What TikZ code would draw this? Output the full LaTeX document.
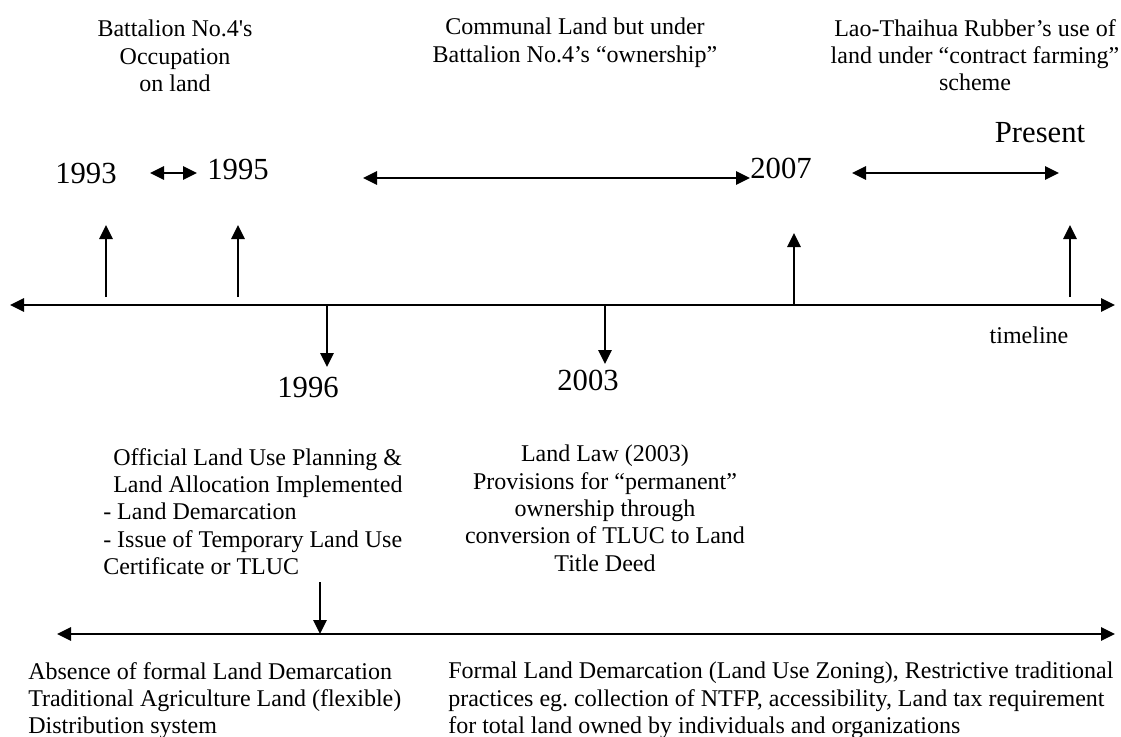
\documentclass[tikz,border=0pt]{standalone}
\usepackage{fontspec}
\newfontfamily\tnr{Liberation Serif}
\usetikzlibrary{arrows.meta}
\frenchspacing
\begin{document}
\begin{tikzpicture}[x=0.75pt,y=-0.75pt,
  >={Triangle[length=10.5pt,width=10pt]},
  line/.style={line width=1.6pt},
  txt/.style={inner sep=0pt,font=\tnr\frenchspacing\fontsize{18pt}{20.5pt}\selectfont},
  year/.style={inner sep=0pt,font=\tnr\fontsize{23pt}{26pt}\selectfont}]
\useasboundingbox[fill=white] (0,0) rectangle (1121,736);

% upper timeline and markers
\coordinate (tlL) at (10,305);
\coordinate (tlR) at (1115,305);
\coordinate (a93s) at (106,297);  \coordinate (a93e) at (106,225);
\coordinate (a95s) at (238,297);  \coordinate (a95e) at (238,225);
\coordinate (a07s) at (794,305);  \coordinate (a07e) at (794,233);
\coordinate (aPs)  at (1070,297); \coordinate (aPe)  at (1070,225);
\coordinate (a96s) at (327,305);  \coordinate (a96e) at (327,367);
\coordinate (a03s) at (605,305);  \coordinate (a03e) at (605,364);
% period arrows
\coordinate (p1L) at (150,173); \coordinate (p1R) at (197,173);
\coordinate (p2L) at (363,178); \coordinate (p2R) at (750,178);
\coordinate (p3L) at (852,173); \coordinate (p3R) at (1059,173);
% lower timeline
\coordinate (btL) at (57,634);
\coordinate (btR) at (1115,634);
\coordinate (bdS) at (320,582);
\coordinate (bdE) at (320,634);

% captions above
\node[txt,anchor=north,align=center] (cap1) at (175,20)
  {Battalion No.4's\\Occupation\\on land};
\node[txt,anchor=north,align=center] (cap2) at (575,18)
  {Communal Land but under\\Battalion No.4’s “ownership”};
\node[txt,anchor=north,align=center] (cap3) at (975,19)
  {Lao-Thaihua Rubber’s use of\\land under “contract farming”\\scheme};

% years
\node[year,anchor=north] (y1993) at (86,163) {1993};
\node[year,anchor=north] (y1995) at (238,159) {1995};
\node[year,anchor=north] (y2007) at (781,158) {2007};
\node[year,anchor=north] (yPres) at (1040,122) {Present};
\node[year,anchor=north] (y1996) at (308,377) {1996};
\node[year,anchor=north] (y2003) at (588,370) {2003};
\node[txt,anchor=north] (tlabel) at (1029,327) {timeline};

% descriptions below
\node[txt,anchor=north west,align=left] (d1996) at (103,448)
  {\hspace*{7.5pt}Official Land Use Planning \&\\
   \hspace*{7.5pt}Land Allocation Implemented\\
   - Land Demarcation\\
   - Issue of Temporary Land Use\\
   Certificate or TLUC};
\node[txt,anchor=north,align=center] (d2003) at (605,445)
  {Land Law (2003)\\Provisions for “permanent”\\ownership through\\conversion of TLUC to Land\\Title Deed};
\node[txt,anchor=north west,align=left] (before) at (28,662)
  {Absence of formal Land Demarcation\\Traditional Agriculture Land (flexible)\\Distribution system};
\node[txt,anchor=north west,align=left] (after) at (448,662)
  {Formal Land Demarcation (Land Use Zoning), Restrictive traditional\\practices eg. collection of NTFP, accessibility, Land tax requirement\\for total land owned by individuals and organizations};

% arrows
\draw[line,<->] (tlL) -- (tlR);
\draw[line,->] (a93s) -- (a93e);
\draw[line,->] (a95s) -- (a95e);
\draw[line,->] (a07s) -- (a07e);
\draw[line,->] (aPs) -- (aPe);
\draw[line,->] (a96s) -- (a96e);
\draw[line,->] (a03s) -- (a03e);
\draw[line,<->] (p1L) -- (p1R);
\draw[line,<->] (p2L) -- (p2R);
\draw[line,<->] (p3L) -- (p3R);
\draw[line,<->] (btL) -- (btR);
\draw[line,->] (bdS) -- (bdE);
\end{tikzpicture}
\end{document}
